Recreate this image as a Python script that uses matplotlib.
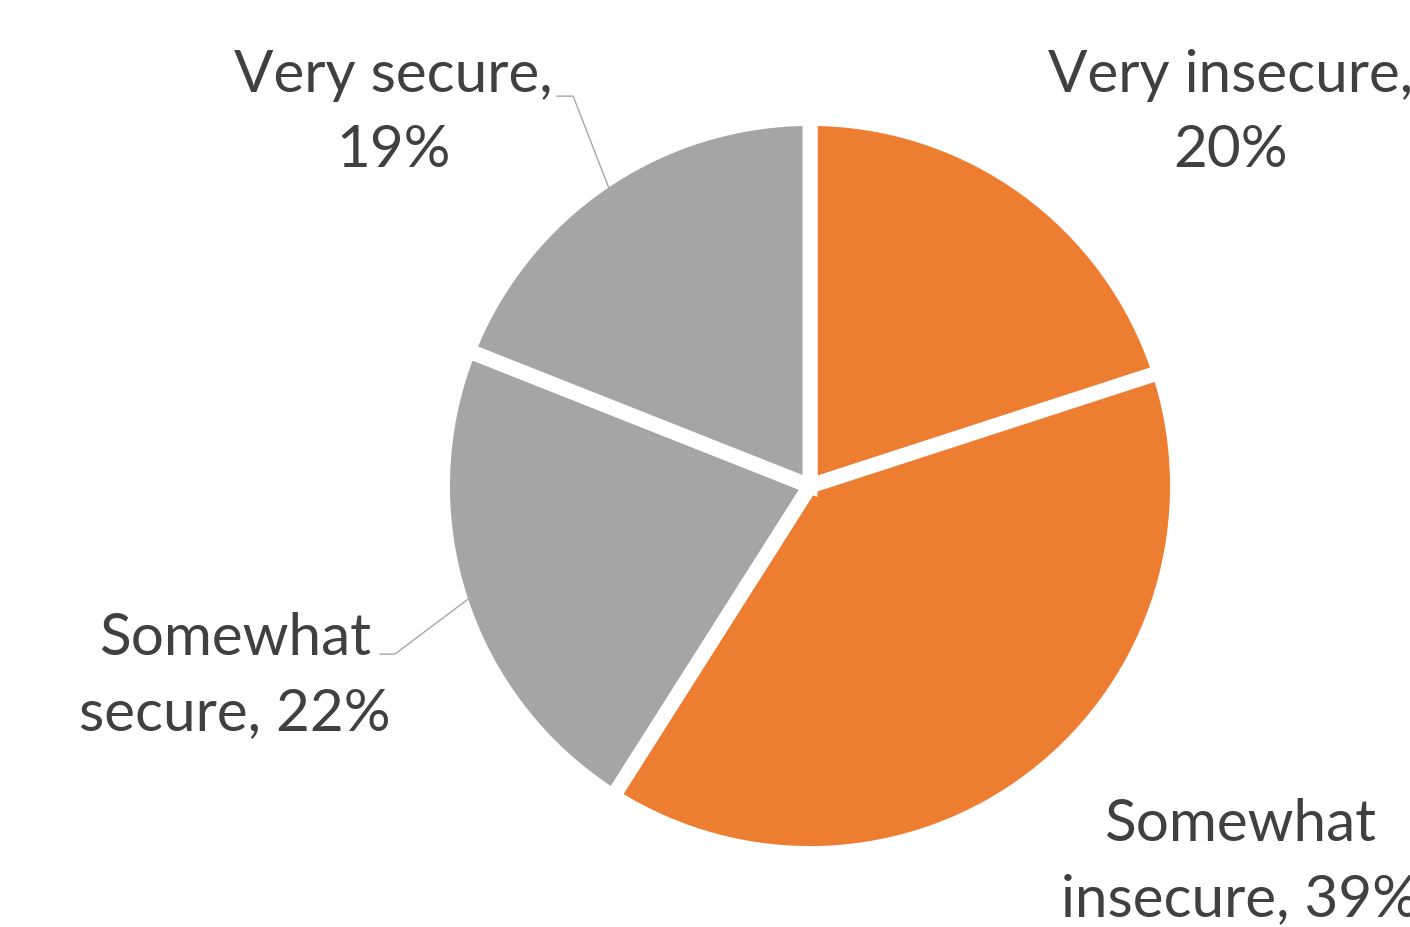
import numpy as np
import matplotlib
matplotlib.use("Agg")
import matplotlib.pyplot as plt

# data
labels = ["Very insecure", "Somewhat insecure", "Somewhat secure", "Very secure"]
shares = [20, 39, 22, 19]
colors = ["#ED7D31", "#ED7D31", "#A5A5A5", "#A5A5A5"]

label_texts = ["Very insecure,\n20%", "Somewhat\ninsecure, 39%",
               "Somewhat\nsecure, 22%", "Very secure,\n19%"]
label_pos = [(1.169, 1.039), (1.194, -1.042), (-1.597, -0.525), (-1.158, 1.039)]
# elbow points of the leader lines (None = no leader line)
elbows = [None, None, (-1.153, -0.467), (-0.658, 1.083)]
ticks = [None, None, (-1.194, -0.467), (-0.703, 1.083)]

plt.rcParams["font.family"] = ["Lato", "DejaVu Sans"]

fig = plt.figure(figsize=(14.1, 9.28), dpi=100)
ax = fig.add_axes([0, 0, 1, 1])

scale = 360.0  # pixels per unit radius
cx, cy = 810, 487

wedges, _ = ax.pie(shares, colors=colors, startangle=90, counterclock=False,
                   radius=1.021,
                   wedgeprops=dict(edgecolor="white", linewidth=10.8))

for w, txt, pos, elb, tk in zip(wedges, label_texts, label_pos, elbows, ticks):
    ax.text(pos[0], pos[1], txt, ha="center", va="center", fontsize=42,
            color="#404040", linespacing=1.5)
    if elb is not None:
        mid = np.deg2rad((w.theta1 + w.theta2) / 2)
        end = (0.985 * np.cos(mid), 0.985 * np.sin(mid))
        ax.plot([tk[0], elb[0], end[0]], [tk[1], elb[1], end[1]],
                color="#A6A6A6", lw=1.0, solid_joinstyle="miter")

ax.set_xlim(-cx / scale, (1410 - cx) / scale)
ax.set_ylim(-(928 - cy) / scale, cy / scale)
ax.set_aspect("equal")
ax.axis("off")

fig.savefig("out.png", dpi=100)
